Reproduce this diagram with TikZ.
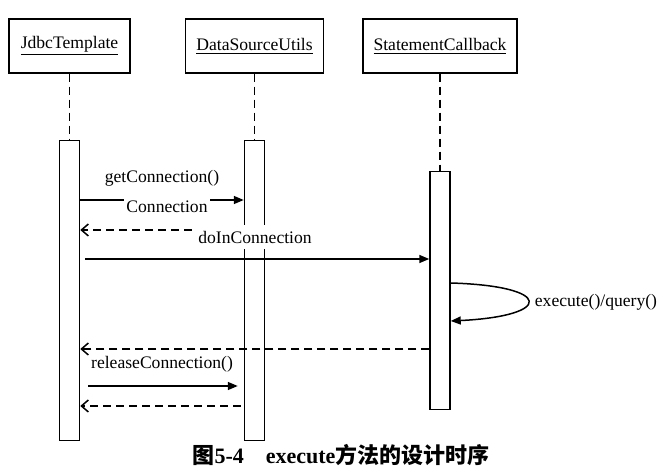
\documentclass[tikz,border=0pt]{standalone}
\usepackage{fontspec}
\setmainfont{Liberation Serif}
\newfontfamily\cjk{Noto Sans CJK SC}
\usepackage{tikz}
\usetikzlibrary{arrows.meta,positioning}

\begin{document}
\begin{tikzpicture}[
  x=0.5pt, y=-0.5pt,
  line width=0.75pt,
  font=\fontsize{8.8}{10}\selectfont,
  node distance=27pt,
  obj/.style  = {draw, rectangle, minimum height=27pt, inner sep=0pt},
  bar/.style  = {draw, rectangle, fill=white, minimum width=10pt, inner sep=0pt},
  life/.style = {dash pattern=on 4pt off 2.5pt},
  msg/.style  = {-{Triangle[length=5pt,width=4pt]}},
  ret/.style  = {dash pattern=on 4pt off 2.5pt, -{Straight Barb[length=3.5pt,width=6pt]}},
  lbl/.style  = {fill=white, inner xsep=1pt, inner ysep=3pt},
]
\useasboundingbox (0,0) rectangle (671,476);

%% --- objects ---
\node[obj, minimum width=60.5pt] (jt) at (69.5,46) {\underline{JdbcTemplate}};
\node[obj, minimum width=69pt, right=27pt of jt] (ds) {\underline{DataSourceUtils}};
\node[obj, minimum width=77pt, right=19pt of ds] (sc) {\underline{StatementCallback}};

%% --- activation bars ---
\node[bar, minimum height=150pt, below=33pt of jt] (jtbar) {};
\node[bar, minimum height=150pt, below=33pt of ds] (dsbar) {};
\node[bar, minimum height=119pt, below=48.5pt of sc] (scbar) {};

\draw[life] (jt.south) -- (jtbar.north);
\draw[life] (ds.south) -- (dsbar.north);
\draw[life] (sc.south) -- (scbar.north);

%% --- message rows ---
\coordinate (r1) at (0,200);
\coordinate (r2) at (0,230);
\coordinate (r3) at (0,259);
\coordinate (r4) at (0,283);
\coordinate (r5) at (0,321);
\coordinate (r6) at (0,349);
\coordinate (r7) at (0,386);
\coordinate (r8) at (0,406);

%% --- arrows ---
\draw[msg] (jtbar.east |- r1) -- (dsbar.west |- r1);
\draw[ret] (dsbar.west |- r2) -- (jtbar.east |- r2);
\draw[msg, shorten <=2.5pt] (jtbar.east |- r3) -- (scbar.west |- r3);
\draw[msg] (scbar.east |- r4) .. controls +(103,3) and +(103,-5) .. (scbar.east |- r5);
\draw[ret] (scbar.west |- r6) -- (jtbar.east |- r6);
\draw[msg, shorten <=4pt, shorten >=3pt] (jtbar.east |- r7) -- (dsbar.west |- r7);
\draw[ret, shorten <=1.5pt] (dsbar.west |- r8) -- (jtbar.east |- r8);

%% --- labels ---
\node (getl)  at (162,178) {getConnection()};
\node[lbl] (conl)  at (167,207) {Connection};
\node[lbl] (doinl) at (255,237) {doInConnection};
\node (execl) at (596,302) {execute()/query()};
\node (rell)  at (162,364) {releaseConnection()};

%% --- caption ---
\node[font=\fontsize{11}{13}\selectfont\bfseries] (cap) at (341,455)
  {{\cjk\bfseries 图}5-4\quad execute{\cjk\bfseries 方法的设计时序}};
\end{tikzpicture}
\end{document}
